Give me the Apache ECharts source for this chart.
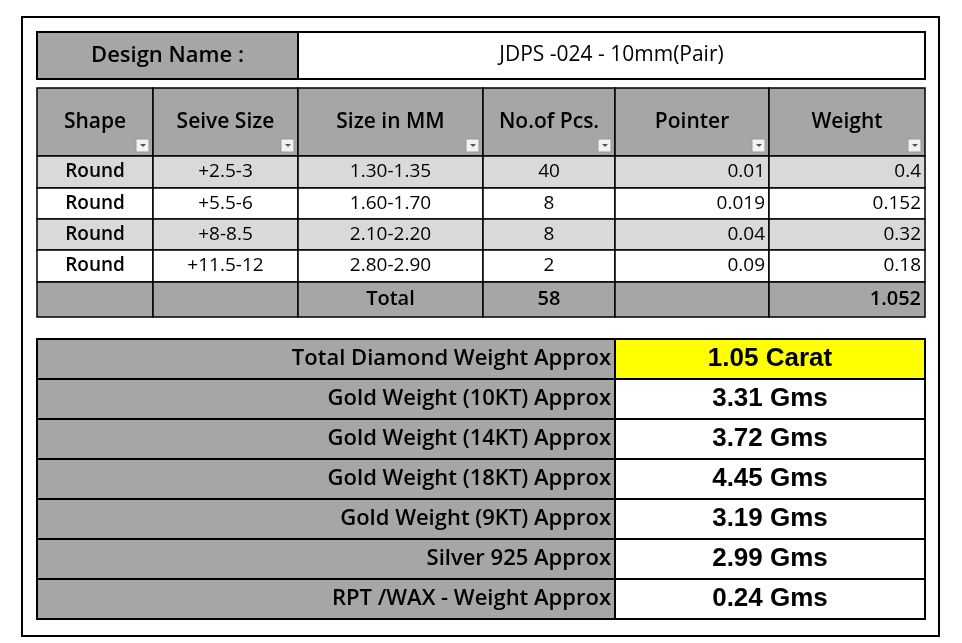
<!DOCTYPE html>
<html>
<head>
<meta charset="UTF-8">
<script src="https://cdn.jsdelivr.net/npm/echarts@6/dist/echarts.min.js"></script>
<style>
  html, body { margin: 0; background: #fff; }
  #main { width: 962px; height: 643px; }
</style>
</head>
<body>
<div id="main"></div>
<script>
var designName = 'JDPS -024 - 10mm(Pair)';
var headers = ['Shape', 'Seive Size', 'Size in MM', 'No.of Pcs.', 'Pointer', 'Weight'];
var shapes = ['Round', 'Round', 'Round', 'Round'];
var sieves = ['+2.5-3', '+5.5-6', '+8-8.5', '+11.5-12'];
var sizes = ['1.30-1.35', '1.60-1.70', '2.10-2.20', '2.80-2.90'];
var pcs = [40, 8, 8, 2];
var pointers = ['0.01', '0.019', '0.04', '0.09'];
var weights = ['0.4', '0.152', '0.32', '0.18'];
var totalPcs = 58;
var totalWeight = '1.052';
var summaryLabels = ['Total Diamond Weight Approx', 'Gold Weight (10KT) Approx', 'Gold Weight (14KT) Approx',
  'Gold Weight (18KT) Approx', 'Gold Weight (9KT) Approx', 'Silver 925 Approx', 'RPT /WAX - Weight Approx'];
var summaryValues = ['1.05 Carat', '3.31 Gms', '3.72 Gms', '4.45 Gms', '3.19 Gms', '2.99 Gms', '0.24 Gms'];

var GRAY = '#a6a6a6', LIGHT = '#d9d9d9';
var FONT = '"Open Sans", "Noto Sans", sans-serif';
var colX = [37, 153, 298, 483, 615, 769, 925];
var align = ['center', 'center', 'center', 'center', 'right', 'right'];
var els = [];

function cell(x0, y0, x1, y1, fill, text, opt) {
  opt = opt || {};
  els.push({ type: 'rect', shape: { x: x0, y: y0, width: x1 - x0, height: y1 - y0 },
    style: { fill: fill, stroke: '#000', lineWidth: opt.lw || 1.5 } });
  if (text === undefined || text === '') return;
  var a = opt.align || 'center';
  var tx = a === 'center' ? (x0 + x1) / 2 : a === 'right' ? x1 - 4 : x0 + 4;
  els.push({ type: 'text', x: tx, y: (y0 + y1) / 2 + (opt.dy || 0),
    style: { text: String(text), align: a, verticalAlign: 'middle', fill: '#000',
      font: (opt.bold ? '600 ' : '') + (opt.size || 19) + 'px ' + (opt.family || FONT) } });
}

// outer frame
els.push({ type: 'rect', shape: { x: 22, y: 17, width: 917, height: 619 },
  style: { fill: 'none', stroke: '#000', lineWidth: 2 } });

// design name row
cell(37, 32, 298, 79, GRAY, 'Design Name :', { bold: true, size: 22, lw: 2 });
cell(298, 32, 925, 79, '#fff', designName, { size: 21, lw: 2 });

// header
headers.forEach(function (h, i) {
  cell(colX[i], 88, colX[i + 1], 156, GRAY, h, { bold: true, size: 21 });
  els.push({ type: 'rect', shape: { x: colX[i + 1] - 17, y: 139, width: 13, height: 13 },
    style: { fill: '#f2f2f2', stroke: '#999', lineWidth: 1 } });
  els.push({ type: 'polygon', shape: { points: [[colX[i + 1] - 13, 144], [colX[i + 1] - 7, 144], [colX[i + 1] - 10, 147]] },
    style: { fill: '#555' } });
});

// data rows
var rowY = [156, 188, 219, 250, 282];
shapes.forEach(function (s, r) {
  var fill = r % 2 === 0 ? LIGHT : '#fff';
  var vals = [s, sieves[r], sizes[r], pcs[r], pointers[r], weights[r]];
  vals.forEach(function (v, i) {
    cell(colX[i], rowY[r], colX[i + 1], rowY[r + 1], fill, v, { align: align[i], bold: i === 0, size: 19 });
  });
});
// total row
var tot = ['', '', 'Total', totalPcs, '', totalWeight];
tot.forEach(function (v, i) {
  cell(colX[i], 282, colX[i + 1], 317, GRAY, v, { align: align[i], bold: true, size: 20 });
});

// summary
summaryLabels.forEach(function (l, r) {
  var y0 = 339 + r * 40, y1 = y0 + 40;
  cell(37, y0, 615, y1, GRAY, l, { align: 'right', bold: true, size: 22, lw: 2 });
  cell(615, y0, 925, y1, r === 0 ? '#ffff00' : '#fff', summaryValues[r],
    { bold: true, size: 26, family: '"Liberation Sans", Arial, sans-serif', lw: 2 });
});

var chart = echarts.init(document.getElementById('main'));
chart.setOption({ animation: false, graphic: { elements: els } });
</script>
</body>
</html>
